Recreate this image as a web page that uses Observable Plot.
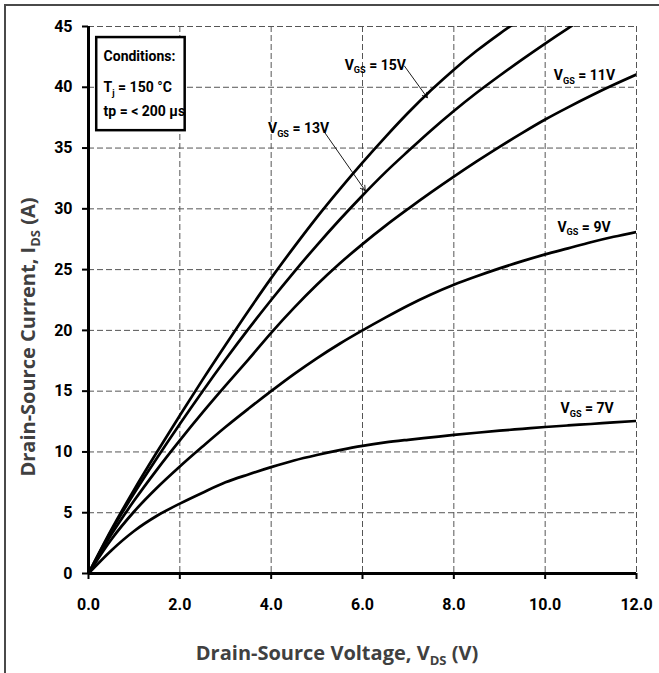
<!DOCTYPE html>
<html><head><meta charset="utf-8">
<script src="https://cdn.jsdelivr.net/npm/d3@7"></script>
<script src="https://cdn.jsdelivr.net/npm/@observablehq/plot@0.6"></script>
<style>
body{margin:0;background:#fff;}
#wrap{position:relative;width:659px;height:673px;overflow:hidden;background:#fff;}
#frame{position:absolute;left:4px;top:4px;width:700px;height:700px;border-top:2px solid #4a4a4a;border-left:2px solid #4a4a4a;pointer-events:none;}
</style></head>
<body><div id="wrap"><div id="chart"></div><div id="frame"></div></div>
<script>
// ---- data ----
const vds = [0,0.5,1,1.5,2,2.5,3,3.5,4,4.5,5,5.5,6,6.5,7,7.5,8,8.5,9,9.5,10,10.5,11,11.5,12];
const id7  = [0,1.9,3.5,4.75,5.75,6.65,7.5,8.15,8.75,9.3,9.75,10.15,10.5,10.78,11.0,11.2,11.4,11.58,11.75,11.9,12.05,12.18,12.3,12.43,12.55];
const id9  = [0,2.8,5.1,7.05,8.8,10.45,12.05,13.55,15.0,16.4,17.7,18.9,20.0,21.05,22.05,22.95,23.75,24.45,25.1,25.7,26.25,26.75,27.25,27.7,28.1];
const id11 = [0,3.2,6.0,8.55,10.95,13.25,15.45,17.6,19.8,21.85,23.75,25.5,27.1,28.6,30.0,31.35,32.65,33.9,35.1,36.25,37.35,38.35,39.3,40.2,41.05];
const id13 = [0,3.5,6.6,9.5,12.3,15.0,17.6,20.1,22.5,24.8,27.0,29.1,31.1,33.0,34.75,36.45,38.05,39.55,40.95,42.3,43.6,44.85,46.05];
const id15 = [0,3.6,6.9,10.0,13.0,15.95,18.8,21.6,24.3,26.85,29.3,31.6,33.8,35.9,37.9,39.75,41.45,43.0,44.4,45.7];
const gateVoltages = ["7V","9V","11V","13V","15V"];
const currents = [id7, id9, id11, id13, id15];
const xTicks = [0,2,4,6,8,10,12];
const yTicks = [0,5,10,15,20,25,30,35,40,45];
const conditionLines = ["Conditions:", "T_{j} = 150 °C", "tp = < 200 µs"];
const xTitle = "Drain-Source Voltage, V_{DS} (V)";
const yTitle = "Drain-Source Current, I_{DS} (A)";

const rows = gateVoltages.flatMap((g, k) => currents[k].map((v, i) => ({vgs: g, vds: vds[i], id: v})));
const labelFor = g => `V_{GS} = ${g}`;

const F = "Roboto,'Noto Sans',sans-serif";
const FT = "'Open Sans','Lato',sans-serif";

// annotation anchors (in data units)
const labels = [
  {g: "15V", x: 6.28, y: 41.8},
  {g: "13V", x: 4.6, y: 36.6},
  {g: "11V", x: 10.86, y: 40.95},
  {g: "9V", x: 10.85, y: 28.5},
  {g: "7V", x: 10.92, y: 13.56}
];
const arrows = [
  {x1: 6.92, y1: 41.74, x2: 7.42, y2: 39.14},
  {x1: 5.17, y1: 36.29, x2: 6.06, y2: 31.5}
];
const condPos = [{x: 0.33, y: 42.53}, {x: 0.33, y: 39.98}, {x: 0.33, y: 37.98}];

const grid = {stroke: "#555", strokeOpacity: 1, strokeDasharray: "6,3", strokeWidth: 1};

const plot = Plot.plot({
  width: 659, height: 673,
  marginLeft: 88, marginRight: 23, marginTop: 26, marginBottom: 100,
  style: {fontFamily: F, background: "white", color: "black"},
  x: {domain: [0, 12]},
  y: {domain: [0, 45]},
  marks: [
    Plot.gridX(xTicks.filter(d => d > 0), grid),
    Plot.gridY(yTicks.filter(d => d > 0), grid),
    Plot.rect([0], {x1: 0.18, x2: 2.117, y1: 36.43, y2: 44.09, fill: "white", stroke: "black", strokeWidth: 2.5}),
    Plot.text(conditionLines, {x: (d, i) => condPos[i].x, y: (d, i) => condPos[i].y, text: d => d, textAnchor: "start", fontSize: 14, fontWeight: "bold", fill: "black"}),
    Plot.line(rows, {x: "vds", y: "id", z: "vgs", stroke: "black", strokeWidth: 2.7, curve: "monotone-x", clip: true}),
    Plot.ruleX([0], {stroke: "black", strokeWidth: 3}),
    Plot.ruleY([0], {stroke: "black", strokeWidth: 3}),
    Plot.axisY(yTicks, {tickSize: 6, tickPadding: 10, fontSize: 16, fontWeight: "bold", strokeWidth: 2, label: null}),
    Plot.axisX(xTicks, {tickSize: 6, tickPadding: 19, fontSize: 16, fontWeight: "bold", strokeWidth: 2, label: null, tickFormat: d3.format(".1f")}),
    Plot.arrow(arrows, {x1: "x1", y1: "y1", x2: "x2", y2: "y2", stroke: "black", strokeWidth: 0.9, headLength: 9}),
    Plot.text(labels, {x: "x", y: "y", text: d => labelFor(d.g), fontSize: 14, fontWeight: "bold", fill: "black"})
  ]
});
document.getElementById("chart").append(plot);

function rich(el, str, fs) {
  const t = d3.select(el);
  t.selectAll("*").remove();
  t.text(null);
  const parts = str.split(/(_\{[^}]*\})/);
  let shifted = false;
  for (const p of parts) {
    if (!p) continue;
    const m = p.match(/^_\{([^}]*)\}$/);
    if (m) {
      t.append("tspan").attr("font-size", fs * 0.65).attr("dy", fs * 0.25).text(m[1]);
      shifted = true;
    } else {
      const s = t.append("tspan").text(p);
      if (shifted) { s.attr("dy", -fs * 0.25); shifted = false; }
    }
  }
}
const svg = d3.select(plot);
svg.selectAll("text").each(function() {
  const s = this.textContent;
  if (s.includes("_{")) rich(this, s, 14);
});
const xt = svg.append("text").attr("x", 337).attr("y", 660).attr("text-anchor", "middle")
  .attr("font-family", FT).attr("font-weight", "bold").attr("font-size", 20).attr("fill", "#404040");
rich(xt.node(), xTitle, 20);
const yt = svg.append("text").attr("transform", "translate(35,337) rotate(-90)").attr("text-anchor", "middle")
  .attr("font-family", FT).attr("font-weight", "bold").attr("font-size", 20).attr("fill", "#404040");
rich(yt.node(), yTitle, 20);
</script>
</body></html>
